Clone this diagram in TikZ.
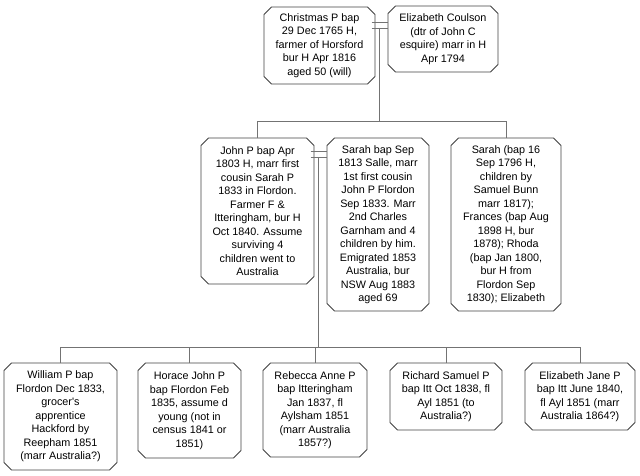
\documentclass[tikz,border=0pt]{standalone}
\usepackage{fontspec}
\setmainfont{Liberation Sans}
\usetikzlibrary{shapes.misc,calc}

\begin{document}
\begin{tikzpicture}[x=1pt,y=-1pt,
  person/.style={draw=black!75, line width=0.8pt, chamfered rectangle,
    chamfered rectangle xsep=4pt, inner sep=0pt, align=center,
    font=\fontsize{10.8}{13.5}\selectfont},
  link/.style={draw=black!55, line width=0.8pt}]
\useasboundingbox (0,0) rectangle (640,476);
% parents
\node [person, minimum width=111, minimum height=77] (xmas) at (319.5,45.5)
  {Christmas P bap\\29 Dec 1765 H,\\farmer of Horsford\\bur H Apr 1816\\aged 50 (will)};
\node [person, minimum width=110, minimum height=66] (coulson) at (443,39)
  {Elizabeth Coulson\\(dtr of John C\\esquire) marr in H\\Apr 1794};
% children
\node [person, minimum width=113, minimum height=146] (john) at (257.5,211)
  {John P bap Apr\\1803 H, marr first\\cousin Sarah P\\1833 in Flordon.\\Farmer F \&\\Itteringham, bur H\\Oct 1840. Assume\\surviving 4\\children went to\\Australia};
\node [person, minimum width=102, minimum height=173] (sarah) at (378,224.5)
  {Sarah bap Sep\\1813 Salle, marr\\1st first cousin\\John P Flordon\\Sep 1833. Marr\\2nd Charles\\Garnham and 4\\children by him.\\Emigrated 1853\\Australia, bur\\NSW Aug 1883\\aged 69};
\node [person, minimum width=110, minimum height=173] (sisters) at (506,224.5)
  {Sarah (bap 16\\Sep 1796 H,\\children by\\Samuel Bunn\\marr 1817);\\Frances (bap Aug\\1898 H, bur\\1878); Rhoda\\(bap Jan 1800,\\bur H from\\Flordon Sep\\1830); Elizabeth};
% grandchildren
\node [person, minimum width=113, minimum height=107] (william) at (60.5,416.5)
  {William P bap\\Flordon Dec 1833,\\grocer\textquotesingle s\\apprentice\\Hackford by\\Reepham 1851\\(marr Australia?)};
\node [person, minimum width=103, minimum height=95] (horace) at (189.5,410.5)
  {Horace John P\\bap Flordon Feb\\1835, assume d\\young (not in\\census 1841 or\\1851)};
\node [person, minimum width=104, minimum height=94] (rebecca) at (315,410)
  {Rebecca Anne P\\bap Itteringham\\Jan 1837, fl\\Aylsham 1851\\(marr Australia\\1857?)};
\node [person, minimum width=112, minimum height=67] (richard) at (446,396.5)
  {Richard Samuel P\\bap Itt Oct 1838, fl\\Ayl 1851 (to\\Australia?)};
\node [person, minimum width=110, minimum height=67] (ejane) at (580,396.5)
  {Elizabeth Jane P\\bap Itt June 1840,\\fl Ayl 1851 (marr\\Australia 1864?)};
% first marriage
\path (xmas.north east) ++(0,11.5) coordinate (w1a) ++(0,6) coordinate (w1b);
\draw [link] (w1a) -- (w1a -| coulson.west);
\draw [link] (w1b) -- (w1b -| coulson.west);
\coordinate (w1) at ($(w1b)!0.5!(w1b -| coulson.west)$);
\draw [link] (john.north) -- ++(0,-16) coordinate (bar1) -| (sisters.north);
\draw [link] (w1) -- (w1 |- bar1);
% second marriage
\path (john.north east) ++(0,9.5) coordinate (w2a) ++(0,6.5) coordinate (w2b);
\draw [link] (w2a) -- (w2a -| sarah.west);
\draw [link] (w2b) -- (w2b -| sarah.west);
\coordinate (w2) at ($(w2b)!0.5!(w2b -| sarah.west)$);
\draw [link] (william.north) -- ++(0,-15) coordinate (bar2) -| (ejane.north);
\draw [link] (w2) -- (w2 |- bar2);
\draw [link] (horace.north) -- (horace.north |- bar2);
\draw [link] (rebecca.north) -- (rebecca.north |- bar2);
\draw [link] (richard.north) -- (richard.north |- bar2);
\end{tikzpicture}
\end{document}
